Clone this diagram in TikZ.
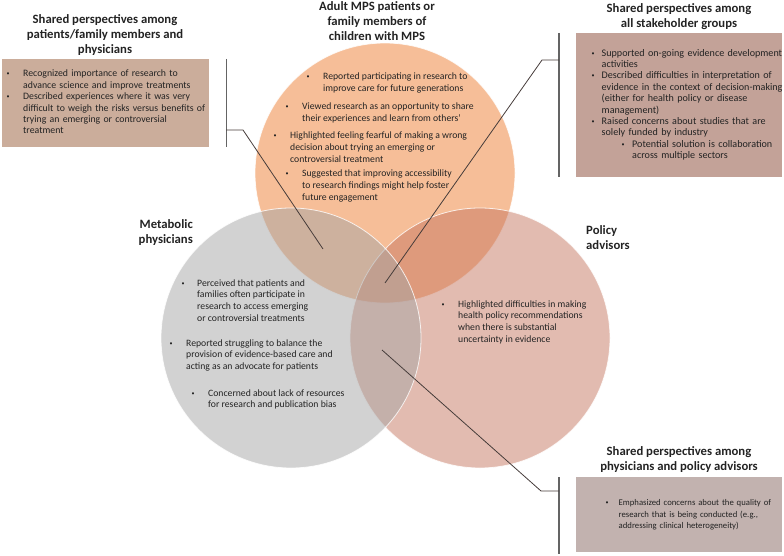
\documentclass[tikz,border=0pt]{standalone}
\usepackage{fontspec}
\setmainfont{Carlito}
\usepackage{tikz}

\definecolor{orangebase}{RGB}{237,125,49}
\definecolor{graybase}{RGB}{165,165,165}
\definecolor{pinkbase}{RGB}{198,120,98}
\definecolor{tlfill}{RGB}{203,173,155}
\definecolor{trfill}{RGB}{195,162,152}
\definecolor{brfill}{RGB}{194,178,175}
\definecolor{txt}{RGB}{35,35,35}
\definecolor{brackc}{RGB}{100,100,100}
\definecolor{leadc}{RGB}{70,60,58}

\newcommand{\blt}{\raisebox{1pt}{\fontsize{6}{5}\selectfont\textbullet}}
\newcommand{\blist}[2][16.5pt]{\begin{tabular}[t]{@{}p{#1}@{}l@{}}#2\end{tabular}}

\begin{document}
\begin{tikzpicture}[
                x=1pt, y=-1pt,                % 像素坐标
                every node/.style={text=txt, inner sep=0pt},
                venn/.style={circle, minimum size=260pt, fill opacity=0.5,
                    draw=white, draw opacity=0.8, line width=0.8pt},
                head/.style={font=\fontsize{12.7}{15}\selectfont\bfseries, align=center},
                item/.style={anchor=base west, font=\fontsize{9.7}{11.8}\selectfont},
                sbox/.style={anchor=north west, text width=#1, minimum width=#1, align=left},
                brack/.style={draw=brackc, line width=1.2pt},
                lead/.style={draw=leadc, line width=0.8pt}
            ]
                \useasboundingbox (0,0) rectangle (784,556);

                % 圆
                \node[venn, fill=orangebase] (pat) at (385,173) {};
                \node[venn, fill=pinkbase] (pol) at (480,338) {};
                \node[venn, fill=graybase] (phy) at (291,338) {};

                % 标题
                \node[head] (pathead) at (377,21) {Adult MPS patients or\\family members of\\children with MPS};
                \node[head, anchor=east, align=right] (phyhead) at (193,232.5) {Metabolic\\physicians};
                \node[head, anchor=west, align=left] (polhead) at (586,237.5) {Policy\\advisors};
                \node[head] (tlhead) at (105,35) {Shared perspectives among\\patients/family members and\\physicians};
                \node[head] (trhead) at (679,17) {Shared perspectives among\\all stakeholder groups};
                \node[head] (brhead) at (679,460) {Shared perspectives among\\physicians and policy advisors};

                % 圆内文字
                \node[item] (pat1) at (306.5,80) {\blist{\blt & Reported participating in research to\\ & improve care for future generations}};
                \node[item] (pat2) at (285.5,110) {\blist{\blt & Viewed research as an opportunity to share\\ & their experiences and learn from others'}};
                \node[item] (pat3) at (273.5,139) {\blist{\blt & Highlighted feeling fearful of making a wrong\\ & decision about trying an emerging or\\ & controversial treatment}};
                \node[item] (pat4) at (285.5,177) {\blist{\blt & Suggested that improving accessibility\\ & to research findings might help foster\\ & future engagement}};
                \node[item] (phy1) at (181.5,286) {\blist[15.5pt]{\blt & Perceived that patients and\\ & families often participate in\\ & research to access emerging\\ & or controversial treatments}};
                \node[item] (phy2) at (169.5,346) {\blist{\blt & Reported struggling to balance the\\ & provision of evidence-based care and\\ & acting as an advocate for patients}};
                \node[item] (phy3) at (191.5,396) {\blist{\blt & Concerned about lack of resources\\ & for research and publication bias}};
                \node[item] (pol1) at (441.5,307) {\blist{\blt & Highlighted difficulties in making\\ & health policy recommendations\\ & when there is substantial\\ & uncertainty in evidence}};

                % 方框
                \node[sbox=207pt, minimum height=88pt, fill=tlfill, font=\fontsize{9.8}{11.4}\selectfont] (tl) at (2,59)
                    {\noindent\hspace*{4.5pt}\blist{\blt & Recognized importance of research to\\ & advance science and improve treatments\\
                     \blt & Described experiences where it was very\\ & difficult to weigh the risks versus benefits of\\ & trying an emerging or controversial\\ & treatment}};
                \node[sbox=206pt, minimum height=144pt, fill=trfill, font=\fontsize{10.1}{11.4}\selectfont] (tr) at (576,33)
                    {\noindent\hspace*{15.5pt}\blist[10pt]{\blt & Supported on-going evidence development\\ & activities\\
                     \blt & Described difficulties in interpretation of\\ & evidence in the context of decision-making\\ & (either for health policy or disease\\ & management)\\
                     \blt & Raised concerns about studies that are\\ & solely funded by industry\\
                     & \hspace*{20pt}\makebox[10.5pt][l]{\blt}Potential solution is collaboration\\ & \hspace*{30.5pt}across multiple sectors}};
                \node[sbox=206pt, minimum height=75pt, fill=brfill, font=\fontsize{8.7}{11.5}\selectfont] (br) at (576,477)
                    {\noindent\hspace*{29.5pt}\blist[13pt]{\blt & Emphasized concerns about the quality of\\ & research that is being conducted (e.g.,\\ & addressing clinical heterogeneity)}};

                % 连线
                \coordinate (tlbar) at (226,130);
                \coordinate (tlknee) at (243,130);
                \coordinate (tlend) at (323,249);
                \coordinate (trbar) at (559,60);
                \coordinate (trknee) at (542,60);
                \coordinate (trend) at (385,283);
                \coordinate (brbar) at (559,491);
                \coordinate (brknee) at (541,491);
                \coordinate (brend) at (382,350);

                \draw[brack] ([xshift=17pt]tl.north east) -- ([xshift=17pt]tl.south east);
                \draw[brack] ([xshift=-17pt]tr.north west) -- ([xshift=-17pt]tr.south west);
                \draw[brack] ([xshift=-17pt]br.north west) -- ([xshift=-17pt,yshift=-2pt]br.south west);
                \draw[lead] (tlbar) -- (tlknee) -- (tlend);
                \draw[lead] (trbar) -- (trknee) -- (trend);
                \draw[lead] (brbar) -- (brknee) -- (brend);
            \end{tikzpicture}
\end{document}
